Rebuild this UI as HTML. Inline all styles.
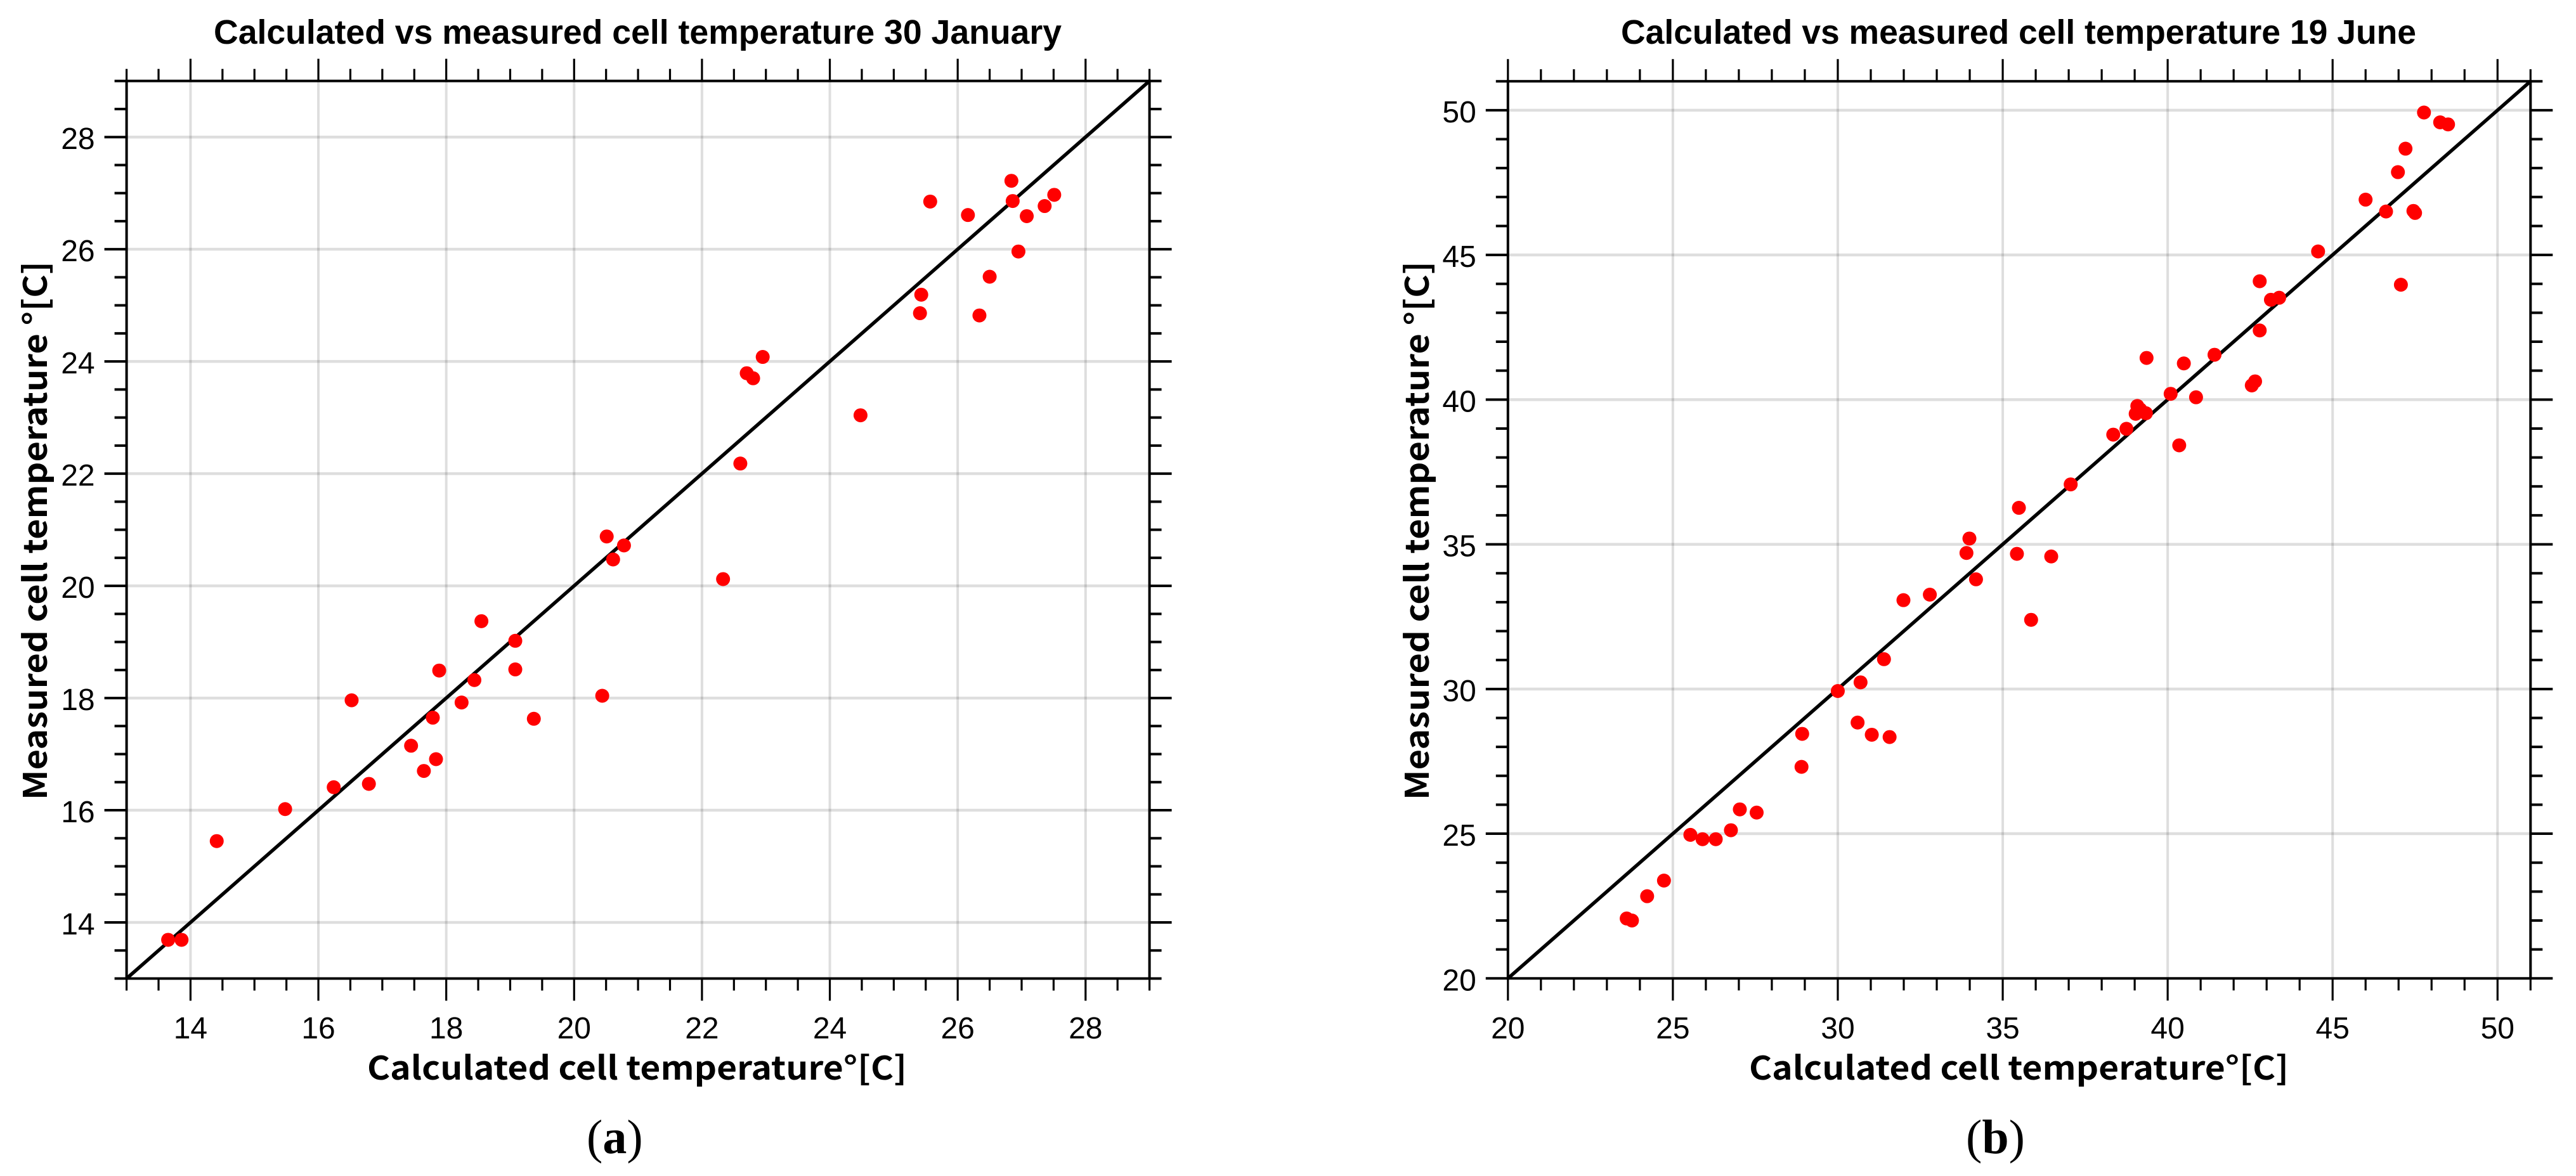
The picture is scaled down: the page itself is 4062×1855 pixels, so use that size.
<!DOCTYPE html>
<html lang="en">
<head>
<meta charset="utf-8">
<title>Calculated vs measured cell temperature</title>
<style>
html,body{margin:0;padding:0;background:#fff;}
body{width:4062px;height:1855px;overflow:hidden;}
svg{display:block;}
.title{font-family:"Liberation Sans",sans-serif;font-weight:700;font-size:54px;fill:#000;}
.axis-title{font-family:"Noto Sans CJK JP","Liberation Sans",sans-serif;font-weight:700;font-size:51px;fill:#000;}
.tick{font-family:"Liberation Sans",sans-serif;font-size:48px;fill:#000;}
.caption{font-family:"Liberation Serif",serif;font-size:76px;fill:#000;}
</style>
</head>
<body>
<svg id="figure" xmlns="http://www.w3.org/2000/svg" width="4062" height="1855" viewBox="0 0 4062 1855">
  <rect x="0" y="0" width="4062" height="1855" fill="#fff"/>

  <g id="chart-a"></g>
  <g id="chart-b"></g>

  <text class="title" x="337" y="69" textLength="1337" lengthAdjust="spacingAndGlyphs">Calculated vs measured cell temperature 30 January</text>
  <text class="axis-title" x="579" y="1703" textLength="851" lengthAdjust="spacingAndGlyphs">Calculated cell temperature°[C]</text>
  <text class="axis-title" transform="translate(74,1262) rotate(-90)" textLength="850" lengthAdjust="spacingAndGlyphs">Measured cell temperature °[C]</text>
  <text class="caption" x="925" y="1819">(<tspan font-weight="700">a</tspan>)</text>

  <text class="title" x="2556" y="69" textLength="1254" lengthAdjust="spacingAndGlyphs">Calculated vs measured cell temperature 19 June</text>
  <text class="axis-title" x="2758" y="1703" textLength="851" lengthAdjust="spacingAndGlyphs">Calculated cell temperature°[C]</text>
  <text class="axis-title" transform="translate(2253,1262) rotate(-90)" textLength="850" lengthAdjust="spacingAndGlyphs">Measured cell temperature °[C]</text>
  <text class="caption" x="3100" y="1819">(<tspan font-weight="700">b</tspan>)</text>
</svg>

<script>
// Chart (a): 30 January
const calculatedJan = [26.84,26.86,27.51,27.36,27.08,26.16,25.57,26.95,26.50,25.43,25.41,26.34,22.95,22.70,22.80,24.48,22.60,22.33,20.51,20.78,20.61,18.55,19.08,17.89,19.08,18.44,18.24,20.44,19.37,17.79,17.45,17.84,17.65,16.52,16.24,16.79,15.48,14.41,13.65,13.86];
const measuredJan   = [27.22,26.86,26.97,26.77,26.59,26.61,26.85,25.96,25.51,25.19,24.86,24.82,24.08,23.79,23.70,23.04,22.18,20.12,20.88,20.72,20.47,19.37,19.02,18.49,18.51,18.32,17.92,18.04,17.63,17.65,17.15,16.91,16.70,17.96,16.41,16.47,16.02,15.45,13.69,13.69];
const ticksJan = ['14','16','18','20','22','24','26','28'];

// Chart (b): 19 June
const calculatedJun = [47.77,48.26,48.50,47.21,46.98,46.00,46.62,47.45,47.50,44.56,42.79,47.07,43.13,43.38,42.79,41.42,39.36,40.49,40.09,40.86,42.65,42.55,39.08,39.03,39.17,39.34,38.75,38.35,40.35,37.06,36.47,35.49,33.99,33.90,35.43,34.19,32.79,31.99,35.86,31.40,30.69,30.00,30.60,31.03,31.57,28.92,28.90,27.03,27.54,26.76,25.53,25.90,26.30,24.73,24.22,23.60,23.76];
const measuredJun   = [49.92,49.58,49.51,48.67,47.86,46.91,46.50,46.52,46.45,45.12,44.09,43.97,43.45,43.52,42.39,41.55,41.44,41.25,40.20,40.08,40.63,40.49,39.78,39.51,39.66,39.53,38.99,38.79,38.42,37.07,34.58,36.26,35.20,34.70,34.67,33.79,33.26,33.07,32.39,31.03,30.23,29.93,28.84,28.42,28.34,28.45,27.31,25.84,25.73,25.12,24.96,24.81,24.81,23.38,22.84,22.07,22.00];
const ticksJun = ['20','25','30','35','40','45','50'];

const SVG_NS = 'http://www.w3.org/2000/svg';

function make(tag, attrs, parent) {
  const node = document.createElementNS(SVG_NS, tag);
  for (const key in attrs) node.setAttribute(key, attrs[key]);
  parent.appendChild(node);
  return node;
}

function drawChart(root, prefix, xs, ys, labels, cfg) {
  const sx = v => cfg.left + (v - cfg.min) * (cfg.right - cfg.left) / (cfg.max - cfg.min);
  const sy = v => cfg.bottom - (v - cfg.min) * (cfg.bottom - cfg.top) / (cfg.max - cfg.min);
  const majors = labels.map(Number);

  // grid
  const gridGroup = make('g', {stroke: 'rgba(0,0,0,0.13)', fill: 'none'}, root);
  
  
  majors.forEach(v => {
    if (v === cfg.min || v === cfg.max) return;
    const vLine = make('line', {x1: sx(v), x2: sx(v), y1: cfg.top, y2: cfg.bottom, 'stroke-width': 4}, gridGroup);
    
    
    const hLine = make('line', {x1: cfg.left, x2: cfg.right, y1: sy(v), y2: sy(v), 'stroke-width': 4.5}, gridGroup);
    
    
  });

  // identity line
  const diagonal = make('line', {x1: sx(cfg.min), y1: sy(cfg.min), x2: sx(cfg.max), y2: sy(cfg.max), stroke: '#000', 'stroke-width': 5.5}, root);
  
  

  // points
  const pointGroup = make('g', {fill: '#ff0000'}, root);
  
  
  xs.forEach((x, i) => {
    const dot = make('circle', {cx: sx(x), cy: sy(ys[i]), r: 11}, pointGroup);
    
    
  });

  // axes frame
  const axisGroup = make('g', {stroke: '#000', fill: 'none', 'stroke-width': 4}, root);
  
  
  const frame = make('rect', {x: cfg.left, y: cfg.top, width: cfg.right - cfg.left, height: cfg.bottom - cfg.top}, axisGroup);
  
  

  // ticks
  const MAJOR = 35, MINOR = 19;
  const count = Math.round((cfg.max - cfg.min) / cfg.minorStep);
  for (let k = 0; k <= count; k++) {
    const v = cfg.min + k * cfg.minorStep;
    const isMajor = majors.some(m => Math.abs(m - v) < 1e-6);
    const len = isMajor ? MAJOR : MINOR;
    const xp = sx(v), yp = sy(v);

    const tickBottom = make('line', {x1: xp, x2: xp, y1: cfg.bottom, y2: cfg.bottom + len, 'stroke-width': 3.2}, axisGroup);
    
    
    const tickTop = make('line', {x1: xp, x2: xp, y1: cfg.top, y2: cfg.top - len, 'stroke-width': 3.2}, axisGroup);
    
    
    const tickLeft = make('line', {x1: cfg.left, x2: cfg.left - len, y1: yp, y2: yp}, axisGroup);
    
    
    const tickRight = make('line', {x1: cfg.right, x2: cfg.right + len, y1: yp, y2: yp}, axisGroup);
    
    
  }

  // tick labels
  labels.forEach(label => {
    const v = Number(label);
    const xLabel = make('text', {class: 'tick', x: sx(v), y: 1638, 'text-anchor': 'middle'}, root);
    xLabel.textContent = label;
    
    
    const yLabel = make('text', {class: 'tick', x: cfg.left - 50, y: sy(v) + cfg.labelDrop, 'text-anchor': 'end'}, root);
    yLabel.textContent = label;
    
    
  });
}

drawChart(document.getElementById('chart-a'), 'chart-a', calculatedJan, measuredJan, ticksJan,
  {min: 13, max: 29, minorStep: 0.5, left: 199.6, right: 1812.6, top: 127.7, bottom: 1543.5, labelDrop: 19});
drawChart(document.getElementById('chart-b'), 'chart-b', calculatedJun, measuredJun, ticksJun,
  {min: 20, max: 51, minorStep: 1, left: 2377.8, right: 3990.3, top: 128.2, bottom: 1543.3, labelDrop: 19});
</script>
</body>
</html>
